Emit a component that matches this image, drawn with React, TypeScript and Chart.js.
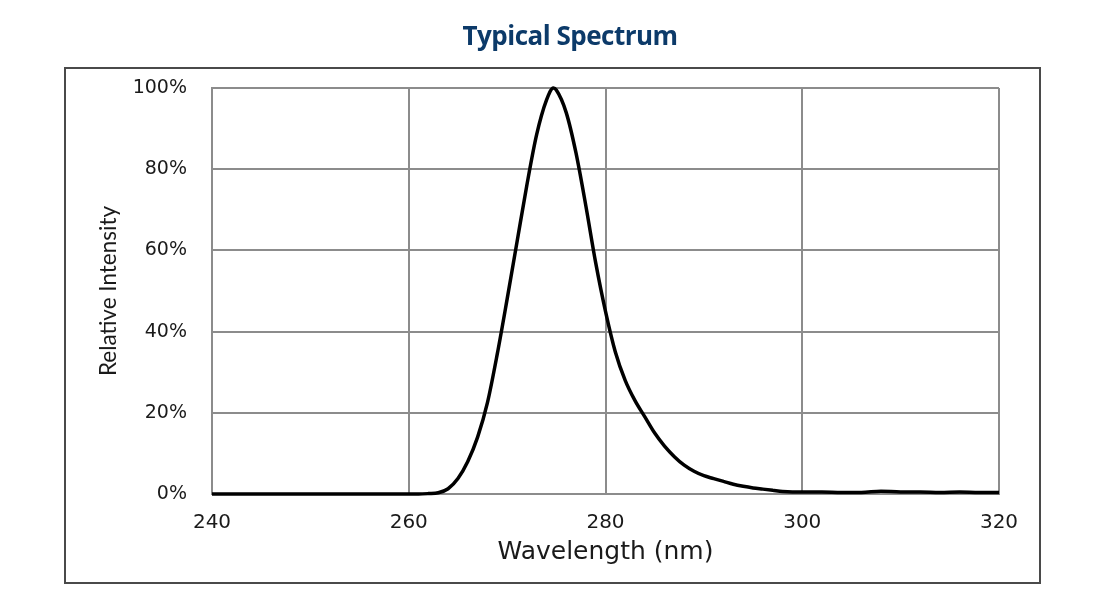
import React, { useEffect, useRef } from "react";
import { Chart, registerables } from "chart.js";

Chart.register(...registerables);

const chartTitle = "Typical Spectrum";
const xAxisTitle = "Wavelength (nm)";
const yAxisTitle = "Relative Intensity";

const wavelength = [
  240, 250, 260, 261, 262, 263, 264, 265, 266, 267, 268, 269, 270, 271, 272, 273, 274, 274.7,
  275, 276, 277, 278, 279, 280, 281, 282, 283, 284, 285, 286, 287, 288, 289, 290, 291, 292,
  293, 294, 295, 296, 297, 298, 299, 300, 302, 304, 306, 308, 310, 312, 314, 316, 318, 320,
];
const intensity = [
  0, 0, 0, 0, 0.1, 0.3, 1.3, 3.8, 8, 14, 22.5, 34.5, 48, 62, 76, 88.5, 97, 100,
  99.5, 94, 84, 71, 57, 45, 35, 28, 23, 19, 15, 11.8, 9.2, 7.1, 5.6, 4.5, 3.8, 3.1,
  2.4, 1.9, 1.5, 1.2, 0.9, 0.6, 0.5, 0.5, 0.5, 0.4, 0.4, 0.7, 0.5, 0.5, 0.4, 0.5, 0.4, 0.4,
];

const xMin = 240;
const xMax = 320;
const xStep = 20;
const yMin = 0;
const yMax = 100;
const yStep = 20;

const CANVAS_W = 973;
const CANVAS_H = 513;

export default function App() {
  const canvasRef = useRef<HTMLCanvasElement | null>(null);

  useEffect(() => {
    const canvas = canvasRef.current;
    if (!canvas) return;
    const points = wavelength.map((w, i) => ({ x: w, y: intensity[i] }));
    const chart = new Chart(canvas, {
      type: "line",
      data: {
        datasets: [
          {
            data: points,
            borderColor: "#000000",
            borderWidth: 3.5,
            pointRadius: 0,
            fill: false,
            cubicInterpolationMode: "monotone",
            clip: 6,
          },
        ],
      },
      options: {
        animation: false,
        responsive: false,
        maintainAspectRatio: false,
        layout: { padding: { left: 0, right: 40, top: 19, bottom: 0 } },
        plugins: {
          legend: { display: false },
          tooltip: { enabled: false },
          title: { display: false },
        },
        scales: {
          x: {
            type: "linear",
            min: xMin,
            max: xMax,
            afterFit: (scale: any) => {
              scale.height = 88;
              scale.paddingLeft = 0;
              scale.paddingRight = 0;
            },
            ticks: {
              stepSize: xStep,
              padding: 17,
              color: "#1a1a1a",
              font: { family: "'DejaVu Sans', Verdana, sans-serif", size: 20 },
            },
            grid: {
              color: "#8c8c8c",
              lineWidth: 2,
              drawTicks: false,
            },
            border: { color: "#8c8c8c", width: 2 },
            title: {
              display: true,
              text: xAxisTitle,
              color: "#1a1a1a",
              font: { family: "'DejaVu Sans', Verdana, sans-serif", size: 25, lineHeight: 1.2 },
              padding: { top: 0, bottom: 15 },
            },
          },
          y: {
            type: "linear",
            min: yMin,
            max: yMax,
            afterFit: (scale: any) => {
              scale.width = 146;
              scale.paddingTop = 0;
              scale.paddingBottom = 0;
            },
            ticks: {
              stepSize: yStep,
              padding: 25,
              color: "#1a1a1a",
              font: { family: "'DejaVu Sans', Verdana, sans-serif", size: 19 },
              callback: (v: any) => `${v}%`,
            },
            grid: {
              color: "#8c8c8c",
              lineWidth: 2,
              drawTicks: false,
            },
            border: { color: "#8c8c8c", width: 2 },
            title: {
              display: true,
              text: yAxisTitle,
              color: "#1a1a1a",
              font: {
                family: "Lato, 'Liberation Sans Narrow', sans-serif",
                size: 22.5,
                lineHeight: 1.2,
              },
              padding: { top: 29, bottom: 0 },
            },
          },
        },
      },
    });
    return () => chart.destroy();
  }, []);

  return (
    <div>
      <div
        style={{
          position: "fixed",
          left: 0,
          top: 19,
          width: 1140,
          textAlign: "center",
          fontFamily: "'Open Sans', 'Noto Sans', sans-serif",
          fontWeight: 700,
          fontSize: 26,
          lineHeight: "32px",
          color: "#0c3a69",
          letterSpacing: "-0.5px",
        }}
      >
        {chartTitle}
      </div>
      <div
        style={{
          position: "fixed",
          left: 64,
          top: 67,
          width: 977,
          height: 517,
          border: "2px solid #4a4a4a",
          boxSizing: "border-box",
          background: "#ffffff",
        }}
      >
        <canvas
          ref={canvasRef}
          width={CANVAS_W}
          height={CANVAS_H}
          style={{ display: "block", width: CANVAS_W, height: CANVAS_H }}
        />
      </div>
    </div>
  );
}
